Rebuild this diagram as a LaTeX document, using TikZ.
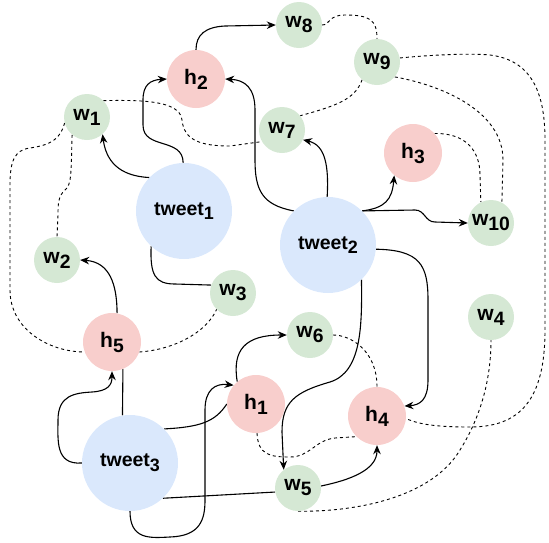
\documentclass[tikz,border=0pt]{standalone}
\usepackage{fontspec}
\setmainfont{Liberation Sans}
\usepackage{graphicx}
\usetikzlibrary{arrows.meta,backgrounds}
\definecolor{twblue}{HTML}{DAE8FC}
\definecolor{hred}{HTML}{F8CECC}
\definecolor{wgreen}{HTML}{D5E8D4}
\newcommand{\lowi}[1]{\raisebox{-0.45ex}{\scalebox{0.92}{#1}}}
\begin{document}
\begin{tikzpicture}[x=1pt,y=-1pt,
  tw/.style={circle,fill=twblue,inner sep=0pt,minimum size=96pt,
    font=\bfseries\fontsize{19.5}{22}\selectfont},
  hn/.style={circle,fill=hred,inner sep=0pt,minimum size=58pt,
    font=\bfseries\fontsize{21}{23}\selectfont},
  wn/.style={circle,fill=wgreen,inner sep=0pt,minimum size=46pt,
    font=\bfseries\fontsize{21}{23}\selectfont},
  arr/.style={-{Stealth[length=9pt,width=7.5pt]},line width=1.1pt},
  link/.style={line width=1.1pt},
  dsh/.style={dash pattern=on 3pt off 3pt,line width=0.9pt}]
\useasboundingbox (0,0) rectangle (549,542);
% tweets
\node[tw] (t1) at (184,211) {tweet\lowi{1}};
\node[tw] (t2) at (328,245) {tweet\lowi{2}};
\node[tw] (t3) at (130,463) {tweet\lowi{3}};
% hashtags
\node[hn] (h1) at (256,404) {h\lowi{1}};
\node[hn] (h2) at (196,79) {h\lowi{2}};
\node[hn] (h3) at (413,153) {h\lowi{3}};
\node[hn] (h4) at (377,416) {h\lowi{4}};
\node[hn] (h5) at (112,342) {h\lowi{5}};
% words
\node[wn] (w1) at (87,117) {w\lowi{1}};
\node[wn] (w2) at (57,260) {w\lowi{2}};
\node[wn] (w3) at (233,293) {w\lowi{3}};
\node[wn] (w4) at (491,317) {w\lowi{4}};
\node[wn] (w5) at (298,488) {w\lowi{5}};
\node[wn] (w6) at (310,335) {w\lowi{6}};
\node[wn] (w7) at (282,130) {w\lowi{7}};
\node[wn] (w8) at (299,25) {w\lowi{8}};
\node[wn] (w9) at (377,62) {w\lowi{9}};
\node[wn] (w10) at (491,223) {w\lowi{10}};

\begin{scope}[on background layer]
% solid edges
\draw[arr] (t1.136) .. controls (118,176) and (106,160) .. (w1.-48);
\draw[arr] (t1.91) .. controls (183,137) and (143,150) .. (143,125)
  -- (143,100) .. controls (143,85) and (150,80) .. (h2.west);
\draw[arr] (t2.135) .. controls (262,205) and (255,190) .. (255,160)
  -- (255,110) .. controls (255,88) and (245,80) .. (h2.east);
\draw[arr] (t2.91) .. controls (329,165) and (325,145) .. (w7.-25);
\draw[arr] (t2.45) .. controls (385,208) and (392,200) .. (h3.-130);
\draw[arr] (t2.45) -- (415,210) .. controls (425,210) and (425,222)
  .. (435,222) -- (w10.west);
\draw[arr] (t2.-5) .. controls (420,250) and (428,265) .. (428,300)
  -- (428,380) .. controls (428,400) and (420,405) .. (h4.20);
\draw[arr] (t2.-46) .. controls (362,325) and (362,372) .. (330,382)
  .. controls (295,392) and (282,402) .. (282,432) -- (w5.128);
\draw[arr] (w5.5) .. controls (350,480) and (377,470) .. (h4.south);
\draw[link] (t3.45) .. controls (200,427) and (215,422) .. (h1.west);
\draw[arr] (t3.south) .. controls (130,540) and (150,538) .. (170,537)
  .. controls (200,536) and (205,520) .. (205,500) -- (205,410)
  .. controls (205,390) and (215,383) .. (h1.140);
\draw[arr] (h1.130) .. controls (232,350) and (245,335) .. (w6.west);
\draw[link] (t3.-47) -- (w5.190);
\draw[arr] (t3.west) .. controls (55,465) and (58,440) .. (58,420)
  .. controls (58,395) and (75,393) .. (92,392)
  .. controls (108,391) and (112,385) .. (h5.south);
\draw[link] (t3.99) -- (h5.-68);
\draw[arr] (h5.80) .. controls (117,285) and (110,262) .. (w2.east);
\draw[link] (t1.-133) .. controls (150,275) and (155,284) .. (175,284)
  -- (w3.160);
\draw[arr] (h2.north) .. controls (196,35) and (205,27) .. (225,26)
  -- (w8.west);
% dashed edges
\draw[dsh] (w8.east) .. controls (330,25) and (328,15) .. (345,15)
  .. controls (370,15) and (377,20) .. (w9.north);
\draw[dsh] (w9.-130) .. controls (355,100) and (335,106) .. (w7.38);
\draw[dsh] (w9.-40) .. controls (440,85) and (503,110) .. (503,160)
  -- (w10.62);
\draw[dsh] (w9.10) .. controls (430,55) and (470,53) .. (490,55)
  .. controls (530,60) and (545,90) .. (545,140) -- (545,330)
  .. controls (545,400) and (520,427) .. (470,427)
  .. controls (440,427) and (420,425) .. (h4.-5);
\draw[dsh] (h3.42) .. controls (465,133) and (480,150) .. (480,175)
  -- (w10.116);
\draw[dsh] (w1.45) .. controls (140,100) and (180,100) .. (182,120)
  .. controls (184,140) and (200,146) .. (230,146) -- (w7.-150);
\draw[dsh] (w1.-130) .. controls (71,170) and (72,185) .. (65,190)
  .. controls (58,196) and (58,205) .. (58,215) -- (w2.north);
\draw[dsh] (w1.-165) .. controls (60,140) and (50,145) .. (30,148)
  .. controls (15,150) and (10,160) .. (10,185) -- (10,290)
  .. controls (10,330) and (50,352) .. (h5.-160);
\draw[dsh] (h5.-20) .. controls (170,350) and (205,335) .. (w3.-135);
\draw[dsh] (w6.east) .. controls (350,335) and (377,350) .. (h4.north);
\draw[dsh] (h1.-88) .. controls (258,455) and (270,457) .. (290,457)
  .. controls (310,457) and (315,440) .. (335,438) -- (h4.-135);
\draw[dsh] (w5.south) .. controls (350,512) and (430,500) .. (460,450)
  .. controls (485,410) and (491,370) .. (w4.south);
\end{scope}
\end{tikzpicture}
\end{document}
